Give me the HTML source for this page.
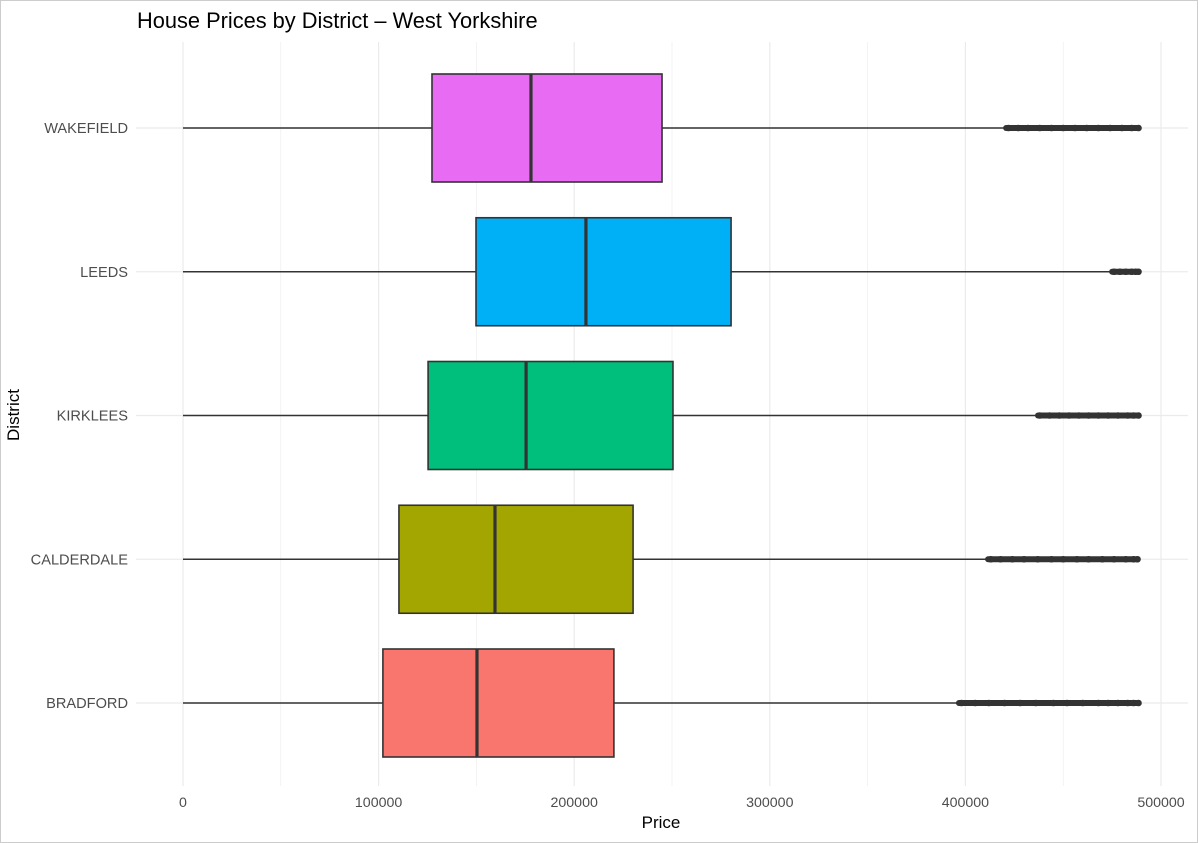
<!DOCTYPE html>
<html><head><meta charset="utf-8"><style>
body{margin:0;background:#fff}
svg{display:block;font-family:"Liberation Sans",Arial,sans-serif}
</style></head><body>
<svg id="chart" width="1198" height="843">
<rect x="0.5" y="0.5" width="1197" height="842" fill="#fff" stroke="#ccc"/>
<text x="137" y="28" font-size="21.8" fill="#000">House Prices by District – West Yorkshire</text>
<text x="661" y="828" font-size="17" text-anchor="middle" fill="#000">Price</text>
<text transform="translate(19,415) rotate(-90)" font-size="17" text-anchor="middle" fill="#000">District</text>
<g id="grid"></g><g id="marks"></g><g id="labels"></g>
</svg>
<script>
const districts=["BRADFORD","CALDERDALE","KIRKLEES","LEEDS","WAKEFIELD"];
const mins=[0,0,0,0,0];
const q1s=[102200,110400,125300,149800,127300];
const medians=[150300,159500,175400,206000,177900];
const q3s=[220300,230100,250500,280200,244900];
const whiskerMax=[396700,411600,437100,475000,420800];
const outliers=[
 [398000,405000,412000,420000,428000,436000,445000,452000,460000,468000,473000,478000,483000,486000,488500],
 [413000,418000,424000,430000,437000,444000,450000,457000,463000,470000,476000,482000,486000,488000],
 [438000,443000,448000,453000,458000,463000,468000,473000,478000,483000,486000,488500],
 [476000,479000,482000,485000,487000,488500],
 [422000,427000,432000,438000,444000,450000,456000,462000,468000,474000,480000,485000,488500]
];
const xTicks=[0,100000,200000,300000,400000,500000];
const NS="http://www.w3.org/2000/svg";
const X=v=>183+v*978/500000;
const Y=i=>703-i*143.75;
function mk(parent,tag,attrs){const e=document.createElementNS(NS,tag);for(const k in attrs)e.setAttribute(k,attrs[k]);document.getElementById(parent).appendChild(e);return e;}
const colors=["#F8766D","#A3A500","#00BF7D","#00B0F6","#E76BF3"];
for(let v=0;v<=550000;v+=50000){const e=mk("grid","line",{x1:X(v),x2:X(v),y1:42,y2:786,stroke:"#ebebeb","stroke-width":v%100000===0?1.2:0.6});

}
districts.forEach((d,i)=>{const e=mk("grid","line",{x1:136,x2:1188,y1:Y(i),y2:Y(i),stroke:"#ebebeb","stroke-width":1.2});

});
xTicks.forEach(v=>{const t=mk("labels","text",{x:X(v),y:807,"font-size":14.2,fill:"#4d4d4d","text-anchor":"middle"});t.textContent=v;

});
districts.forEach((d,i)=>{const y=Y(i);
const t=mk("labels","text",{x:128,y:y+5,"font-size":14.6,fill:"#4d4d4d","text-anchor":"end"});t.textContent=d;


const w1=mk("marks","line",{x1:X(mins[i]),x2:X(q1s[i]),y1:y,y2:y,stroke:"#333","stroke-width":1.6});


const w2=mk("marks","line",{x1:X(q3s[i]),x2:X(whiskerMax[i]),y1:y,y2:y,stroke:"#333","stroke-width":1.6});


const b=mk("marks","rect",{x:X(q1s[i]),y:y-54,width:X(q3s[i])-X(q1s[i]),height:108,fill:colors[i],stroke:"#333","stroke-width":1.6});


const m=mk("marks","line",{x1:X(medians[i]),x2:X(medians[i]),y1:y-54,y2:y+54,stroke:"#333","stroke-width":3.2});


const pts=[whiskerMax[i]].concat(outliers[i]);
for(let k=0;k<pts.length-1;k++){const l=mk("marks","line",{x1:X(pts[k]),x2:X(pts[k+1]),y1:y,y2:y,stroke:"#333","stroke-width":6,"stroke-linecap":"round"});

}
outliers[i].forEach(v=>{const c=mk("marks","circle",{cx:X(v),cy:y,r:3.3,fill:"#333"});

});
});
</script>
</body></html>
